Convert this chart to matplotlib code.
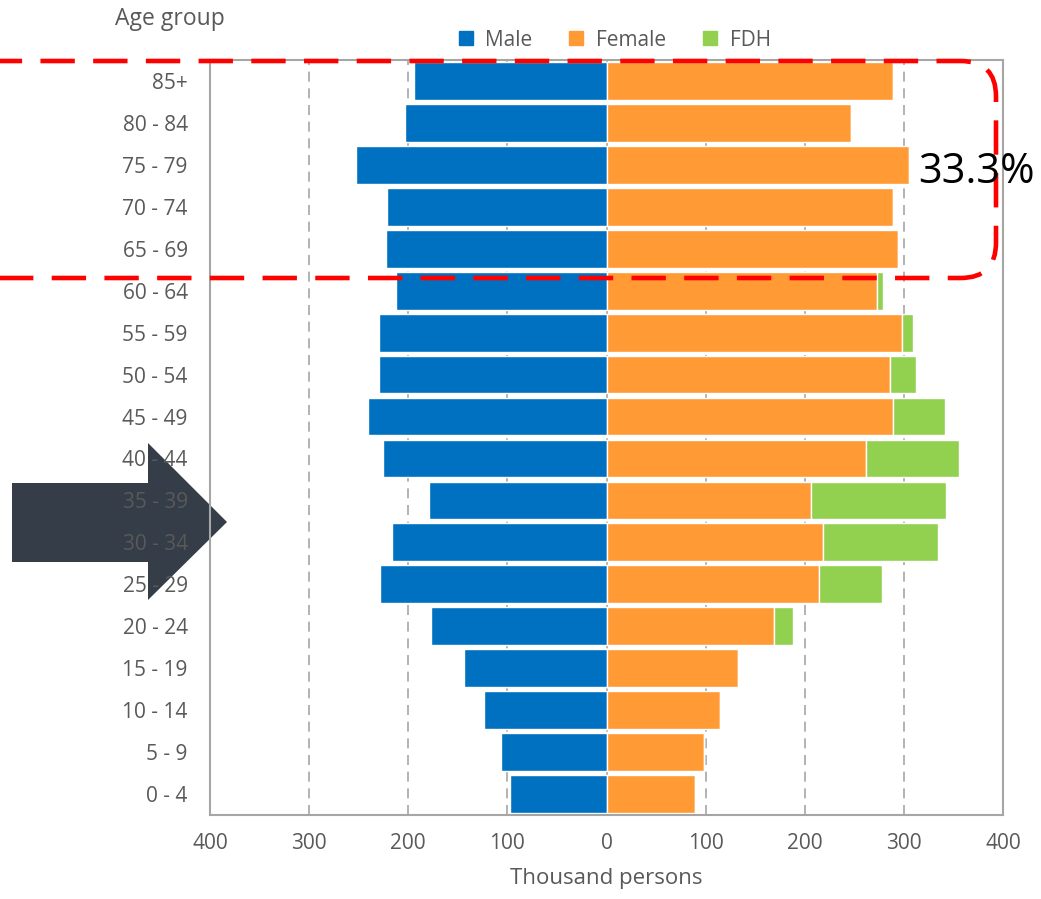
import matplotlib
matplotlib.use("Agg")
import matplotlib.pyplot as plt
from matplotlib.patches import Polygon, FancyBboxPatch
from matplotlib.lines import Line2D
from matplotlib.ticker import FixedLocator, FuncFormatter

plt.rcParams['font.family'] = ['Open Sans', 'DejaVu Sans']

age_groups = ["0 - 4", "5 - 9", "10 - 14", "15 - 19", "20 - 24", "25 - 29",
              "30 - 34", "35 - 39", "40 - 44", "45 - 49", "50 - 54", "55 - 59",
              "60 - 64", "65 - 69", "70 - 74", "75 - 79", "80 - 84", "85+"]
male = [97, 106, 124, 144, 177, 228, 216, 179, 225, 241, 230, 230,
        212, 222, 221, 253, 203, 194]
female = [89, 98, 115, 133, 169, 214, 218, 206, 262, 289, 286, 298,
          273, 294, 289, 305, 247, 289]
fdh = [0, 0, 0, 0, 19, 64, 116, 137, 94, 52, 26, 11,
       6, 0, 0, 0, 0, 0]
x_ticks = [-400, -300, -200, -100, 0, 100, 200, 300, 400]
share_label = "33.3%"

W, H = 1041, 899
fig = plt.figure(figsize=(W / 100, H / 100), dpi=100)
ax = fig.add_axes([210 / W, 1 - 815 / H, (1003 - 210) / W, (815 - 60) / H])
ax.set_facecolor('none')

c_male, c_female, c_fdh = '#0070C0', '#FF9A35', '#92D050'
text_col = '#595959'
grid_col = '#A6A6A6'

y = list(range(len(age_groups)))
bh = 0.9
ax.barh(y, [-m for m in male], height=bh, color=c_male, edgecolor='white', linewidth=1, zorder=2)
ax.barh(y, female, height=bh, color=c_female, edgecolor='white', linewidth=1, zorder=2)
ax.barh(y, fdh, left=female, height=bh, color=c_fdh, edgecolor='white', linewidth=1, zorder=2)

ax.set_xlim(-400, 400)
ax.set_ylim(-0.5, len(age_groups) - 0.5)
ax.xaxis.set_major_locator(FixedLocator(x_ticks))
ax.xaxis.set_major_formatter(FuncFormatter(lambda v, p: f"{abs(int(v))}"))
ax.set_yticks(y)
ax.set_yticklabels(age_groups)
ax.tick_params(axis='both', length=0, labelsize=15, colors=text_col)
ax.tick_params(axis='x', pad=13)
ax.tick_params(axis='y', pad=16)
for v in x_ticks[1:-1]:
    ax.axvline(v, color=grid_col, lw=1.2, ls=(0, (6, 4)), zorder=1)
for s in ax.spines.values():
    s.set_color(grid_col)
    s.set_linewidth(1.5)
ax.set_xlabel("Thousand persons", fontsize=16, color=text_col, labelpad=10)

fig.text(170 / W, 1 - 19 / H, "Age group", ha='center', va='center', fontsize=16.5, color=text_col)

handles = [Line2D([], [], marker='s', ls='none', markersize=10, color=c) for c in (c_male, c_female, c_fdh)]
fig.legend(handles, ["Male", "Female", "FDH"], loc='center', bbox_to_anchor=(612 / W, 1 - 40 / H),
           ncol=3, frameon=False, fontsize=15, handletextpad=0.35, columnspacing=1.5,
           handlelength=1.2, labelcolor=text_col)

# dark arrow pointing at the 30-39 groups
arrow_pts = [(12, 483), (148, 483), (148, 443), (227, 522), (148, 600), (148, 562), (12, 562)]
arrow = Polygon([(px / W, 1 - py / H) for px, py in arrow_pts], closed=True,
                transform=fig.transFigure, facecolor='#343D48', edgecolor='none', zorder=-1)
fig.patches.append(arrow)

# red dashed box around the 65+ groups
box = FancyBboxPatch((-40 / W, 1 - 278 / H), (996 + 40) / W, (278 - 61) / H,
                     boxstyle="round,pad=0,rounding_size=0.034",
                     transform=fig.transFigure, facecolor='none', edgecolor='#FF0000',
                     lw=3.3, ls=(0, (7.5, 4)), zorder=10, mutation_aspect=W / H)
fig.patches.append(box)

fig.text(977 / W, 1 - 172 / H, share_label, ha='center', va='center', fontsize=30, color='black', zorder=11)

fig.savefig("out.png", dpi=100)
